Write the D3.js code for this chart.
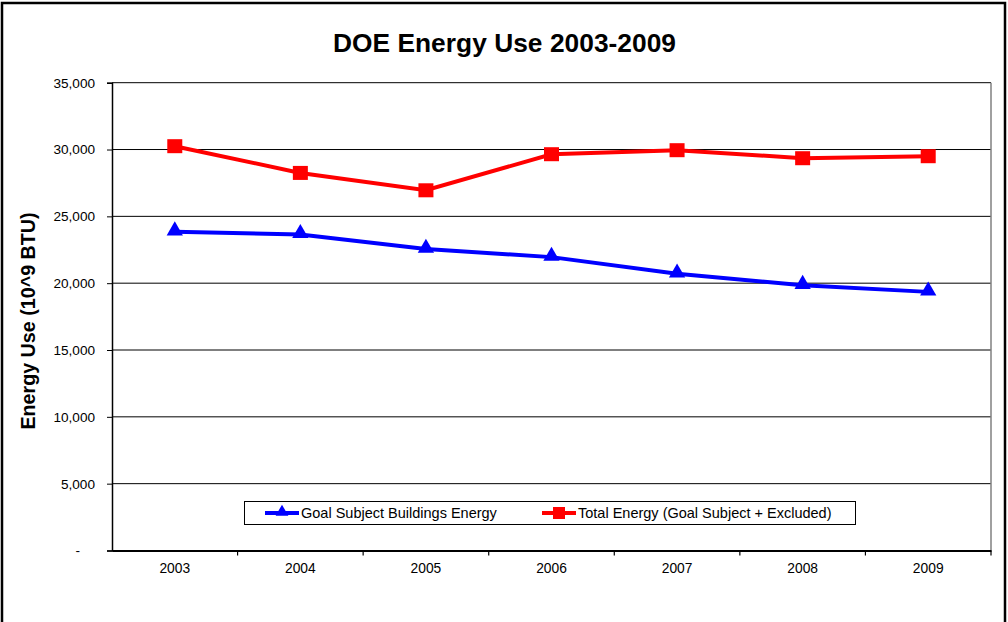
<!DOCTYPE html>
<html>
<head>
<meta charset="utf-8">
<script src="https://cdn.jsdelivr.net/npm/d3@7"></script>
<style>
  body { margin: 0; background: #fff; }
  text { font-family: "Liberation Sans", Arial, sans-serif; }
</style>
</head>
<body>
<script>
const years = ["2003", "2004", "2005", "2006", "2007", "2008", "2009"];
const goalSubject = [23850, 23650, 22550, 21950, 20700, 19850, 19350];
const totalEnergy = [30250, 28250, 26950, 29650, 29950, 29350, 29500];
const yTicks = [0, 5000, 10000, 15000, 20000, 25000, 30000, 35000];

const svg = d3.select("body")
              .append("svg")
              .attr("width", 1008)
              .attr("height", 622);

// outer frame
svg.append("rect")
   .attr("x", 2).attr("y", 3)
   .attr("width", 1003).attr("height", 630)
   .attr("fill", "none")
   .attr("stroke", "#000")
   .attr("stroke-width", 2.5);

const plotLeft = 112, plotRight = 991, plotTop = 82.7, plotBottom = 550.5;

const x = d3.scaleBand()
            .domain(years)
            .range([plotLeft, plotRight]);

const y = d3.scaleLinear()
            .domain([0, 35000])
            .range([plotBottom, plotTop]);

// gridlines
svg.append("g")
   .selectAll("line")
   .data(yTicks.slice(1))
   .enter()
   .append("line")
   .attr("x1", plotLeft).attr("x2", plotRight)
   .attr("y1", d => y(d)).attr("y2", d => y(d))
   .attr("stroke", "#000")
   .attr("stroke-width", 1);

// right border of plot
svg.append("line")
   .attr("x1", plotRight).attr("x2", plotRight)
   .attr("y1", plotTop).attr("y2", plotBottom)
   .attr("stroke", "#808080")
   .attr("stroke-width", 1.5);

// y axis
const yAxis = svg.append("g")
   .attr("transform", `translate(${plotLeft},0)`)
   .call(d3.axisLeft(y)
           .tickValues(yTicks)
           .tickSize(5)
           .tickPadding(12)
           .tickFormat(d => d === 0 ? "-" : d3.format(",")(d)));
yAxis.select(".domain").attr("stroke", "#000").attr("stroke-width", 1.5);
yAxis.selectAll("text").attr("font-size", 13.6).attr("fill", "#000")
     .style("font-family", "Liberation Sans, Arial, sans-serif");
yAxis.selectAll(".tick text").filter(d => d === 0).attr("dx", -15);
yAxis.selectAll("line").attr("stroke", "#000");

// x axis
const xAxis = svg.append("g")
   .attr("transform", `translate(0,${plotBottom})`)
   .call(d3.axisBottom(x).tickSize(0).tickPadding(13));
xAxis.select(".domain").attr("stroke", "#000").attr("stroke-width", 2);
xAxis.selectAll("text").attr("font-size", 13.8).attr("fill", "#000")
     .style("font-family", "Liberation Sans, Arial, sans-serif");

// x tick marks at band edges
svg.append("g")
   .selectAll("line")
   .data(years.slice(1).concat(["end"]))
   .enter()
   .append("line")
   .attr("x1", d => d === "end" ? plotRight : x(d))
   .attr("x2", d => d === "end" ? plotRight : x(d))
   .attr("y1", plotBottom).attr("y2", plotBottom + 5)
   .attr("stroke", "#000")
   .attr("stroke-width", 1.2);

const cx = d => x(d) + x.bandwidth() / 2;

const line = d3.line()
               .x(d => cx(d.year))
               .y(d => y(d.value));

const blueData = years.map((yr, i) => ({ year: yr, value: goalSubject[i] }));
const redData = years.map((yr, i) => ({ year: yr, value: totalEnergy[i] }));

svg.append("path")
   .datum(blueData)
   .attr("d", line)
   .attr("fill", "none")
   .attr("stroke", "#0000ff")
   .attr("stroke-width", 4);

svg.append("path")
   .datum(redData)
   .attr("d", line)
   .attr("fill", "none")
   .attr("stroke", "#ff0000")
   .attr("stroke-width", 4);

const tri = d3.symbol().type(d3.symbolTriangle).size(115);

svg.append("g")
   .selectAll("path")
   .data(blueData)
   .enter()
   .append("path")
   .attr("d", tri)
   .attr("transform", d => `translate(${cx(d.year)},${y(d.value) - 1})`)
   .attr("fill", "#0000ff");

svg.append("g")
   .selectAll("rect")
   .data(redData)
   .enter()
   .append("rect")
   .attr("x", d => cx(d.year) - 7.5)
   .attr("y", d => y(d.value) - 7)
   .attr("width", 15)
   .attr("height", 14)
   .attr("fill", "#ff0000");

// title
svg.append("text")
   .attr("x", 504.5)
   .attr("y", 52)
   .attr("text-anchor", "middle")
   .attr("font-size", 26.3)
   .attr("font-weight", "bold")
   .attr("textLength", 343)
   .text("DOE Energy Use 2003-2009");

// y title
svg.append("text")
   .attr("transform", "translate(35,321) rotate(-90)")
   .attr("text-anchor", "middle")
   .attr("font-size", 19.7)
   .attr("font-weight", "bold")
   .text("Energy Use (10^9 BTU)");

// legend
const legend = svg.append("g");
legend.append("rect")
      .attr("x", 244.5).attr("y", 501.5)
      .attr("width", 611).attr("height", 23)
      .attr("fill", "#fff")
      .attr("stroke", "#000")
      .attr("stroke-width", 1);

const legendItems = [
  { label: "Goal Subject Buildings Energy", color: "#0000ff", marker: "tri", x: 265 },
  { label: "Total Energy (Goal Subject + Excluded)", color: "#ff0000", marker: "sq", x: 542 }
];

legendItems.forEach(it => {
  legend.append("line")
        .attr("x1", it.x).attr("x2", it.x + 34)
        .attr("y1", 513).attr("y2", 513)
        .attr("stroke", it.color)
        .attr("stroke-width", 4);
  if (it.marker === "tri") {
    legend.append("path")
          .attr("d", d3.symbol().type(d3.symbolTriangle).size(70))
          .attr("transform", `translate(${it.x + 17},512)`)
          .attr("fill", it.color);
  } else {
    legend.append("rect")
          .attr("x", it.x + 11).attr("y", 507)
          .attr("width", 12).attr("height", 12)
          .attr("fill", it.color);
  }
  legend.append("text")
        .attr("x", it.x + 36)
        .attr("y", 518)
        .attr("font-size", 14.5)
        .text(it.label);
});
</script>
</body>
</html>
